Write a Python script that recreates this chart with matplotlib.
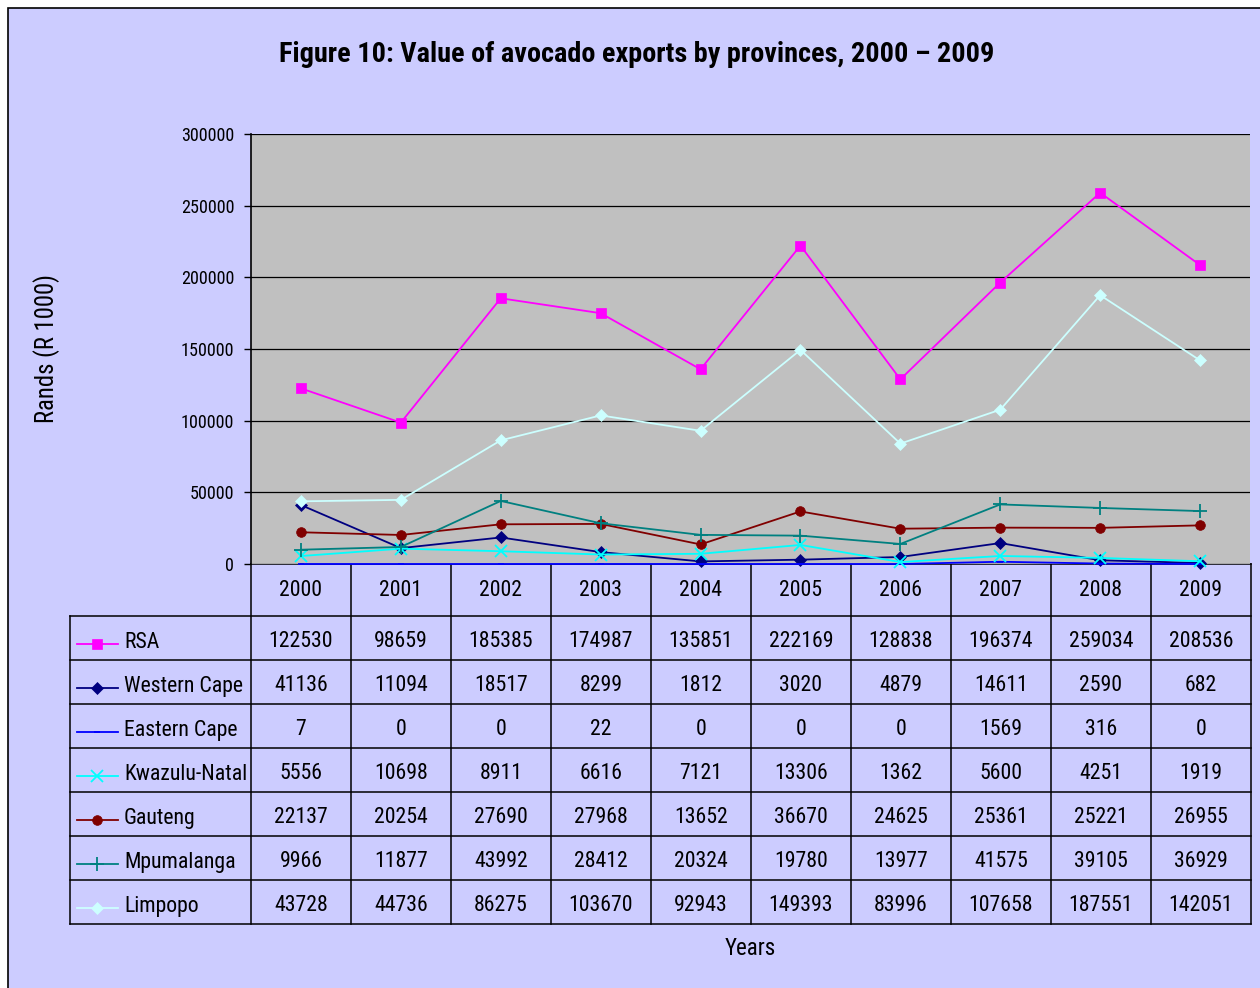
import os
import matplotlib.pyplot as plt
from matplotlib.patches import Rectangle
from matplotlib import font_manager
from matplotlib.font_manager import FontProperties

years = [2000, 2001, 2002, 2003, 2004, 2005, 2006, 2007, 2008, 2009]
provinces = ['RSA', 'Western Cape', 'Eastern Cape', 'Kwazulu-Natal',
             'Gauteng', 'Mpumalanga', 'Limpopo']

rsa = [122530, 98659, 185385, 174987, 135851, 222169, 128838, 196374, 259034, 208536]
western_cape = [41136, 11094, 18517, 8299, 1812, 3020, 4879, 14611, 2590, 682]
eastern_cape = [7, 0, 0, 22, 0, 0, 0, 1569, 316, 0]
kwazulu_natal = [5556, 10698, 8911, 6616, 7121, 13306, 1362, 5600, 4251, 1919]
gauteng = [22137, 20254, 27690, 27968, 13652, 36670, 24625, 25361, 25221, 26955]
mpumalanga = [9966, 11877, 43992, 28412, 20324, 19780, 13977, 41575, 39105, 36929]
limpopo = [43728, 44736, 86275, 103670, 92943, 149393, 83996, 107658, 187551, 142051]

series = [rsa, western_cape, eastern_cape, kwazulu_natal, gauteng, mpumalanga, limpopo]
colors = ['#FF00FF', '#000080', '#0000FF', '#00FFFF', '#800000', '#008080', '#CCFFFF']
markers = ['s', 'D', '_', 'x', 'o', '+', 'D']
msizes = [7, 6.5, 5, 8, 7, 10, 6.5]


def find_font(patterns):
    for f in font_manager.fontManager.ttflist:
        base = os.path.basename(f.fname).lower()
        for p in patterns:
            if base.startswith(p):
                return f.fname
    return None


# prefer a narrow face; otherwise shrink the regular one to a similar width
reg_file = find_font(['liberationsansnarrow-regular', 'robotocondensed-regular'])
bold_file = find_font(['liberationsansnarrow-bold.', 'robotocondensed-bold.'])
if reg_file:
    scale = 1.07 if 'narrow' in reg_file.lower() else 1.0
    def fp(size, bold=False):
        f = bold_file if (bold and bold_file) else reg_file
        return FontProperties(fname=f, size=size * scale)
else:
    scale = 0.9
    def fp(size, bold=False):
        return FontProperties(family='Liberation Sans', size=size * scale,
                              weight='bold' if bold else 'normal')

W, H = 1260, 988
fig = plt.figure(figsize=(W / 100, H / 100), dpi=100, facecolor='white')

# pixel-space layer for the frame and the data table
bg = fig.add_axes([0, 0, 1, 1], zorder=0)
bg.set_xlim(0, W)
bg.set_ylim(H, 0)
bg.axis('off')
bg.add_patch(Rectangle((8, 8), W + 20, H + 20, facecolor='#CCCCFF',
                       edgecolor='black', linewidth=1.2))

left, right, top, bottom = 251, 1250, 134, 564
ax = fig.add_axes([left / W, 1 - bottom / H, (right - left) / W, (bottom - top) / H],
                  zorder=1)
ax.set_facecolor('#C0C0C0')
x = list(range(len(years)))
for vals, c, m, ms in zip(series, colors, markers, msizes):
    ax.plot(x, vals, color=c, marker=m, markersize=ms, linewidth=1.3,
            markeredgewidth=1.3 if m in ('x', '+', '_') else 0.5,
            markeredgecolor=c, clip_on=False)
ax.set_xlim(-0.5, len(years) - 0.5)
ax.set_ylim(0, 300000)
yt = list(range(0, 300001, 50000))
ax.set_yticks(yt)
ax.set_yticklabels([str(v) for v in yt])
for lab in ax.get_yticklabels():
    lab.set_fontproperties(fp(13.1))
ax.set_xticks([])
ax.yaxis.grid(True, color='black', linewidth=0.9)
ax.set_axisbelow(True)
ax.tick_params(axis='y', direction='out', length=5, width=1, pad=7)
for s in ['top', 'right', 'bottom']:
    ax.spines[s].set_visible(False)
ax.spines['left'].set_linewidth(1.2)

# data table
col_w = 100
row_top = 564
head_h = 52
row_h = 44
tab_left = 70
n_rows = len(provinces)
tab_bottom = row_top + head_h + row_h * n_rows
lw = 1.1
for i in range(len(years) + 1):
    xx = left + col_w * i
    bg.plot([xx, xx], [row_top, tab_bottom], color='black', linewidth=lw)
bg.plot([left, left + col_w * len(years)], [row_top, row_top], color='black', linewidth=lw)
for r in range(n_rows + 1):
    yy = row_top + head_h + row_h * r
    bg.plot([tab_left, left + col_w * len(years)], [yy, yy], color='black', linewidth=lw)
bg.plot([tab_left, tab_left], [row_top + head_h, tab_bottom], color='black', linewidth=lw)

for i, yr in enumerate(years):
    bg.text(left + col_w * i + col_w / 2, row_top + head_h / 2, str(yr),
            ha='center', va='center', fontproperties=fp(15.7))

for r, (name, vals, c, m, ms) in enumerate(zip(provinces, series, colors, markers, msizes)):
    cy = row_top + head_h + row_h * r + row_h / 2
    bg.plot([77, 118], [cy + 6, cy + 6], color=c, linewidth=1.3)
    bg.plot([97], [cy + 6], color=c, marker=m, markersize=ms,
            markeredgewidth=1.3 if m in ('x', '+', '_') else 0.5, markeredgecolor=c)
    bg.text(124, cy + 4, name, ha='left', va='center', fontproperties=fp(15.7))
    for i, v in enumerate(vals):
        bg.text(left + col_w * i + col_w / 2, cy + 3, str(v),
                ha='center', va='center', fontproperties=fp(15.7))

bg.text(47, 348, 'Rands (R 1000)', rotation=90, ha='center', va='center',
        fontproperties=fp(17.7))
bg.text(750, 948, 'Years', ha='center', va='center', fontproperties=fp(16.6))
bg.text(637, 55, 'Figure 10: Value of avocado exports by provinces, 2000 \u2013 2009',
        ha='center', va='center', fontproperties=fp(20.3, bold=True))

fig.savefig('out.png', dpi=100, facecolor=fig.get_facecolor())
